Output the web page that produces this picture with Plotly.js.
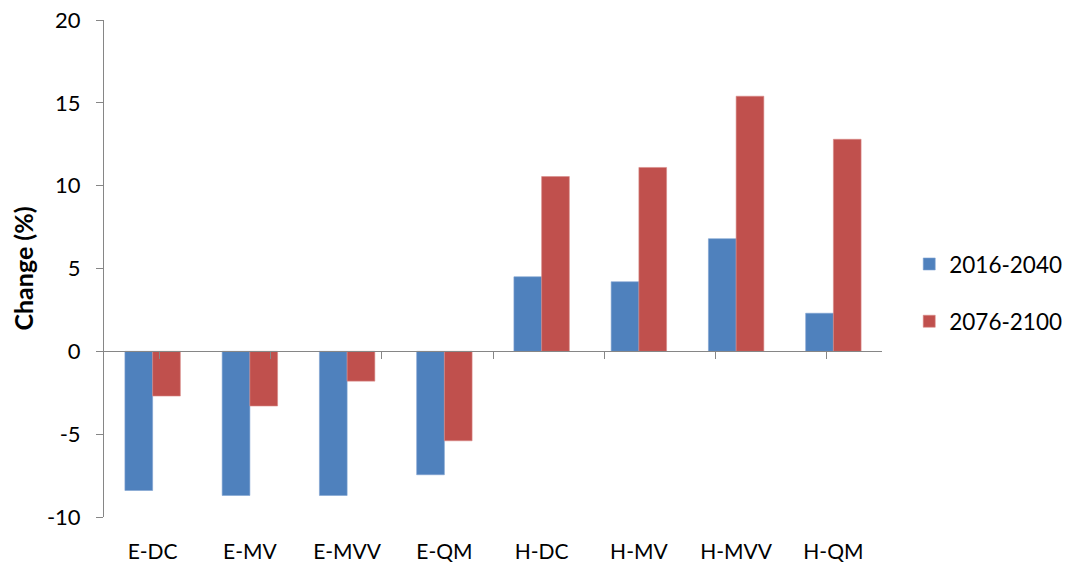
<!DOCTYPE html>
<html>
<head>
<meta charset="utf-8">
<script src="https://cdn.plot.ly/plotly-3.0.1.min.js"></script>
<style>
  html, body { margin: 0; padding: 0; background: #fff; }
  #chart { width: 1070px; height: 567px; }
</style>
</head>
<body>
<div id="chart"></div>
<script>
// Scenario categories
const categories = ['E-DC', 'E-MV', 'E-MVV', 'E-QM', 'H-DC', 'H-MV', 'H-MVV', 'H-QM'];

// Percent change per period
const seriesNames = ['2016-2040', '2076-2100'];
const change2016_2040 = [-8.4, -8.7, -8.7, -7.45, 4.5, 4.2, 6.8, 2.3];
const change2076_2100 = [-2.7, -3.3, -1.8, -5.4, 10.55, 11.1, 15.4, 12.8];

// Y axis ticks and their labels (plain hyphen for negatives)
const yTicks = [-10, -5, 0, 5, 10, 15, 20];
const yTickLabels = ['-10', '-5', '0', '5', '10', '15', '20'];

const font = 'Lato, "Open Sans", "DejaVu Sans", sans-serif';
const axisGray = '#868686';

const traces = [
  {
    type: 'bar', name: seriesNames[0], x: categories, y: change2016_2040,
    marker: { color: '#4F81BD', line: { color: '#7FA3D1', width: 0.6 } },
    legendgroup: 'a'
  },
  {
    type: 'bar', name: seriesNames[1], x: categories, y: change2076_2100,
    marker: { color: '#C0504D', line: { color: '#D98A88', width: 0.6 } },
    legendgroup: 'b'
  },
  // Carries the category axis that runs along the zero line (no marks)
  {
    type: 'scatter', mode: 'none', x: categories, y: categories.map(() => null),
    xaxis: 'x2', showlegend: false, hoverinfo: 'skip'
  }
];

const layout = {
  width: 1070, height: 567,
  margin: { l: 104, r: 188, t: 20, b: 50, autoexpand: false },
  paper_bgcolor: '#fff', plot_bgcolor: '#fff',
  font: { family: font, size: 21, color: '#000' },
  barmode: 'group',
  bargap: 0.43, bargroupgap: 0,
  showlegend: true,
  legend: {
    x: 1.035, xanchor: 'left', y: 0.451, yanchor: 'middle',
    font: { family: font, size: 22.5, color: '#000' },
    traceorder: 'grouped', tracegroupgap: 25,
    bgcolor: 'rgba(0,0,0,0)'
  },
  xaxis: {
    type: 'category',
    showline: false, showgrid: false, zeroline: false,
    ticks: '', ticklabelstandoff: 20,
    tickfont: { family: font, size: 21, color: '#000' }
  },
  xaxis2: {
    type: 'category',
    overlaying: 'x', anchor: 'free', position: 1 / 3,
    showline: true, linecolor: axisGray, linewidth: 1,
    showgrid: false, zeroline: false,
    tickson: 'boundaries',
    ticks: 'outside', ticklen: 7, tickcolor: axisGray, tickwidth: 1,
    showticklabels: false
  },
  yaxis: {
    range: [-10, 20],
    tickmode: 'array', tickvals: yTicks, ticktext: yTickLabels,
    showline: true, linecolor: axisGray, linewidth: 1,
    ticks: 'outside', ticklen: 7, tickcolor: axisGray,
    showgrid: false, zeroline: false,
    ticklabelstandoff: 11,
    tickfont: { family: font, size: 22, color: '#000' },
    title: { text: '<b>Change (%)</b>', font: { family: font, size: 25, color: '#000' }, standoff: 6 }
  }
};

Plotly.newPlot('chart', traces, layout, { displayModeBar: false, staticPlot: true });
</script>
</body>
</html>
